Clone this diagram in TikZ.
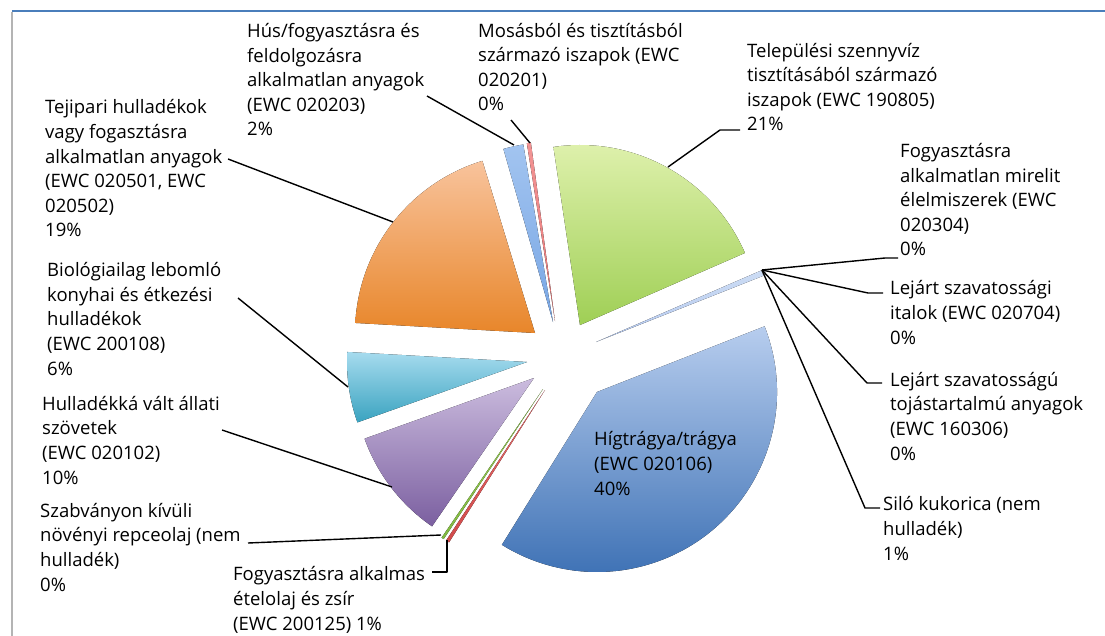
\documentclass[tikz,border=0pt]{standalone}
\usepackage{fontspec}
\setmainfont{Open Sans}
\usetikzlibrary{positioning,calc}
\definecolor{framegray}{HTML}{B4B4B4}
\definecolor{frameblue}{HTML}{4A7EBB}
\definecolor{grntop}{HTML}{E1F2B0}
\definecolor{grnbot}{HTML}{9FCF55}
\definecolor{lavtop}{HTML}{CCDCF4}
\definecolor{lavbot}{HTML}{B4C8EE}
\definecolor{blutop}{HTML}{B7CDEE}
\definecolor{blubot}{HTML}{3C70B4}
\definecolor{redtop}{HTML}{E86E6E}
\definecolor{redbot}{HTML}{D04A4A}
\definecolor{thgtop}{HTML}{9ACD55}
\definecolor{thgbot}{HTML}{80B840}
\definecolor{purtop}{HTML}{CBBCDE}
\definecolor{purbot}{HTML}{7B5FA0}
\definecolor{cyatop}{HTML}{A6DBEE}
\definecolor{cyabot}{HTML}{3AA3C0}
\definecolor{oratop}{HTML}{F8C39C}
\definecolor{orabot}{HTML}{E8862A}
\definecolor{lbltop}{HTML}{A2C4F0}
\definecolor{lblbot}{HTML}{78A6E4}
\definecolor{pnktop}{HTML}{F29494}
\definecolor{pnkbot}{HTML}{E87878}
\tikzset{
lbl/.style={anchor=base west, align=left, inner sep=0pt,
  font=\fontsize{18.5}{24.6}\selectfont},
ld/.style={draw=black, line width=1.4pt, line join=round},
}
% one slice: apex x, apex y, from, to (degrees clockwise from north), top and bottom colour
\newcommand{\pieslice}[6]{%
\fill[top color=#5, bottom color=#6] (#1,#2) -- ++({#3-90}:180)
  arc[start angle={#3-90}, end angle={#4-90}, radius=180] -- cycle;}

\begin{document}
\begin{tikzpicture}[x=1pt,y=-1pt]
\useasboundingbox (0,0) rectangle (1105,636);
\fill[white] (0,0) rectangle (1105,636);
\draw[framegray, line width=2.5pt] (12,12) -- (12,636);
\draw[frameblue, line width=2pt] (12,11) -- (1105,11);

% slices
\pieslice{580}{325}{-8.5}{66.4}{grntop}{grnbot}
\pieslice{596}{342}{66.6}{68.4}{lavtop}{lavbot}
\pieslice{597}{392}{68.6}{211.9}{blutop}{blubot}
\pieslice{545}{390}{212.2}{213.3}{redtop}{redbot}
\pieslice{543}{389}{213.5}{214.3}{thgtop}{thgbot}
\pieslice{534}{378}{214.5}{250.3}{purtop}{purbot}
\pieslice{527}{362}{250.4}{273.2}{cyatop}{cyabot}
\pieslice{535}{333}{273.2}{343}{oratop}{orabot}
\pieslice{553}{322}{344}{350.5}{lbltop}{lblbot}
\pieslice{555}{321}{351}{352.3}{pnktop}{pnkbot}

% labels (anchored at the base line of their last line)
\node[lbl] (hus) at (247,136) {Hús/fogyasztásra és\\feldolgozásra\\alkalmatlan anyagok\\(EWC 020203)\\2\%};
\node[lbl] (mos) at (478,111) {Mosásból és tisztításból\\származó iszapok (EWC\\020201)\\0\%};
\node[lbl] (tel) at (747,131) {Települési szennyvíz\\tisztításából származó\\iszapok (EWC 190805)\\21\%};
\node[lbl] (tej) at (45,237) {Tejipari hulladékok\\vagy fogasztásra\\alkalmatlan anyagok\\(EWC 020501, EWC\\020502)\\19\%};
\node[lbl] (mir) at (900,256) {Fogyasztásra\\alkalmatlan mirelit\\élelmiszerek (EWC\\020304)\\0\%};
\node[lbl] (ita) at (890,344) {Lejárt szavatossági\\italok (EWC 020704)\\0\%};
\node[lbl] (toj) at (890,460) {Lejárt szavatosságú\\tojástartalmú anyagok\\(EWC 160306)\\0\%};
\node[lbl] (silo) at (883,560) {Siló kukorica (nem\\hulladék)\\1\%};
\node[lbl] (bio) at (47,375) {Biológiailag lebomló\\konyhai és étkezési\\hulladékok\\(EWC 200108)\\6\%};
\node[lbl] (all) at (42,484) {Hulladékká vált állati\\szövetek\\(EWC 020102)\\10\%};
\node[lbl] (szab) at (40,591) {Szabványon kívüli\\növényi repceolaj (nem\\hulladék)\\0\%};
\node[lbl] (olaj) at (233,630) {Fogyasztásra alkalmas\\ételolaj és zsír\\(EWC 200125) 1\%};
\node[lbl] (hig) at (594,495) {Hígtrágya/trágya\\(EWC 020106)\\40\%};

% leader ends
\coordinate (hus-a) at (427,96);   \coordinate (hus-b) at (514,145);
\coordinate (mos-a) at (511,120);  \coordinate (mos-b) at (530,143);
\coordinate (tel-a) at (740,130);  \coordinate (tel-b) at (668,167);
\coordinate (tej-a) at (228,159);  \coordinate (tej-b) at (393,222);
\coordinate (hub) at (762,270);
\coordinate (mir-a) at (898,258);
\coordinate (ita-a) at (883,293);
\coordinate (toj-a) at (882,383);
\coordinate (silo-a) at (880,508);
\coordinate (bio-a) at (238,298);  \coordinate (bio-b) at (348,387);
\coordinate (all-a) at (222,430);  \coordinate (all-b) at (392,487);
\coordinate (szab-a) at (248,543); \coordinate (szab-b) at (441,535);
\coordinate (olaj-a) at (432,572); \coordinate (olaj-b) at (447,540);

\draw[ld] (hus-a) -- (hus-b);
\draw[ld] (mos-a) -- (mos-b);
\draw[ld] (tel-a) -- ++(-20,0) -- (tel-b);
\draw[ld] (tej-a) -- (tej-b);
\draw[ld] (mir-a) -- ++(-13,0) -- (hub);
\draw[ld] (ita-a) -- ++(-15,0) -- (hub);
\draw[ld] (toj-a) -- ++(-15,0) -- (hub);
\draw[ld] (silo-a) -- ++(-15,0) -- (hub);
\draw[ld] (bio-a) -- (bio-b);
\draw[ld] (all-a) -- (all-b);
\draw[ld] (szab-a) -- (szab-b);
\draw[ld] (olaj-a) -| (olaj-b);
\end{tikzpicture}
\end{document}
